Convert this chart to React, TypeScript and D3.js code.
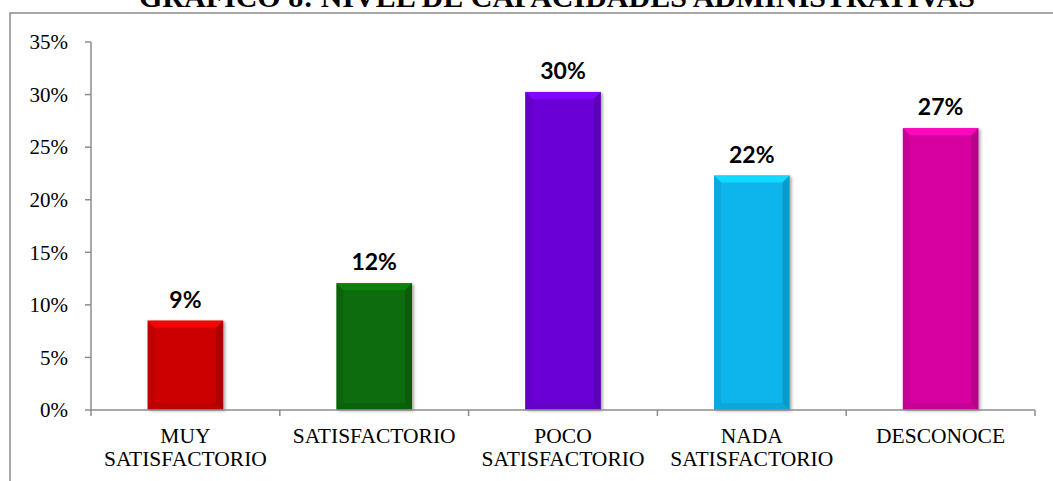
import React from "react";
import * as d3 from "d3";

const categories: string[][] = [
  ["MUY", "SATISFACTORIO"],
  ["SATISFACTORIO"],
  ["POCO", "SATISFACTORIO"],
  ["NADA", "SATISFACTORIO"],
  ["DESCONOCE"],
];
const values: number[] = [0.085, 0.1205, 0.3025, 0.223, 0.268];
const valueLabels: string[] = ["9%", "12%", "30%", "22%", "27%"];
const colors: string[] = ["#cc0505", "#0a6c0a", "#6a06d6", "#10b5ec", "#d605a0"];
const yTicks: number[] = [0, 0.05, 0.1, 0.15, 0.2, 0.25, 0.3, 0.35];
const title = "GRÁFICO 8: NIVEL DE CAPACIDADES ADMINISTRATIVAS";

const W = 1053;
const H = 481;

export default function App() {
  const keys = categories.map((c) => c.join(" "));
  const x = d3.scaleBand<string>().domain(keys).range([91, 1035]).paddingInner(0.6).paddingOuter(0.3);
  const y = d3.scaleLinear().domain([0, 0.35]).range([410, 42]);
  const fmt = d3.format(".0%");
  const axisColor = "#8c8c8c";
  const bev = 7;

  return (
    <svg width={W} height={H} style={{ position: "absolute", left: 0, top: 0, display: "block", background: "#fff" }}>
      <defs>
        <filter id="sh" x="-20%" y="-20%" width="140%" height="140%">
          <feDropShadow dx="2" dy="1" stdDeviation="1.5" floodColor="#000" floodOpacity="0.35" />
        </filter>
      </defs>
      <text x={557} y={7} textAnchor="middle" fontFamily="'Liberation Serif', 'Times New Roman', serif" fontWeight="bold" fontSize={30} fill="#000">
        {title}
      </text>
      <path d={`M10,${H} L10,13 L${W},13`} fill="none" stroke={axisColor} strokeWidth={1.5} />

      {/* y axis */}
      <line x1={91} x2={91} y1={y(0.35)} y2={y(0)} stroke={axisColor} strokeWidth={1.5} />
      {yTicks.map((t) => (
        <g key={t}>
          <line x1={85} x2={91} y1={y(t)} y2={y(t)} stroke={axisColor} strokeWidth={1.5} />
          <text x={68} y={y(t)} dy="0.35em" textAnchor="end" fontFamily="'Liberation Serif', 'Times New Roman', serif" fontSize={21} fill="#000">
            {fmt(t)}
          </text>
        </g>
      ))}

      {/* bars */}
      {keys.map((k, i) => {
        const x0 = x(k)!;
        const bw = x.bandwidth();
        const x1 = x0 + bw;
        const yt = y(values[i]);
        const yb = y(0);
        const c = d3.color(colors[i])!;
        const light = c.brighter(0.5).formatHex();
        const dark = c.darker(0.5).formatHex();
        const darker = c.darker(0.8).formatHex();
        return (
          <g key={k}>
            <rect x={x0} y={yt} width={bw} height={yb - yt} fill={colors[i]} filter="url(#sh)" />
            <polygon points={`${x0},${yt} ${x1},${yt} ${x1 - bev},${yt + bev} ${x0 + bev},${yt + bev}`} fill={light} />
            <polygon points={`${x0},${yt} ${x0 + bev},${yt + bev} ${x0 + bev},${yb - bev} ${x0},${yb}`} fill={dark} opacity={0.45} />
            <polygon points={`${x1},${yt} ${x1 - bev},${yt + bev} ${x1 - bev},${yb - bev} ${x1},${yb}`} fill={darker} opacity={0.6} />
            <polygon points={`${x0},${yb} ${x0 + bev},${yb - bev} ${x1 - bev},${yb - bev} ${x1},${yb}`} fill={dark} opacity={0.5} />
            <text x={x0 + bw / 2} y={yt - 13} textAnchor="middle" fontFamily="Lato, 'Open Sans', sans-serif" fontWeight="bold" fontSize={23} fill="#000">
              {valueLabels[i]}
            </text>
          </g>
        );
      })}

      {/* x axis */}
      <line x1={91} x2={1035} y1={y(0)} y2={y(0)} stroke={axisColor} strokeWidth={1.5} />
      {keys.map((k, i) => (
        <line key={"t" + i} x1={91 + i * x.step()} x2={91 + i * x.step()} y1={y(0)} y2={y(0) + 6} stroke={axisColor} strokeWidth={1.5} />
      ))}
      <line x1={1035} x2={1035} y1={y(0)} y2={y(0) + 6} stroke={axisColor} strokeWidth={1.5} />
      {categories.map((lines, i) => (
        <text key={"c" + i} textAnchor="middle" fontFamily="'Liberation Serif', 'Times New Roman', serif" fontSize={21.5} fill="#000">
          {lines.map((ln, j) => (
            <tspan key={j} x={x(keys[i])! + x.bandwidth() / 2} y={443 + j * 23}>
              {ln}
            </tspan>
          ))}
        </text>
      ))}
    </svg>
  );
}
